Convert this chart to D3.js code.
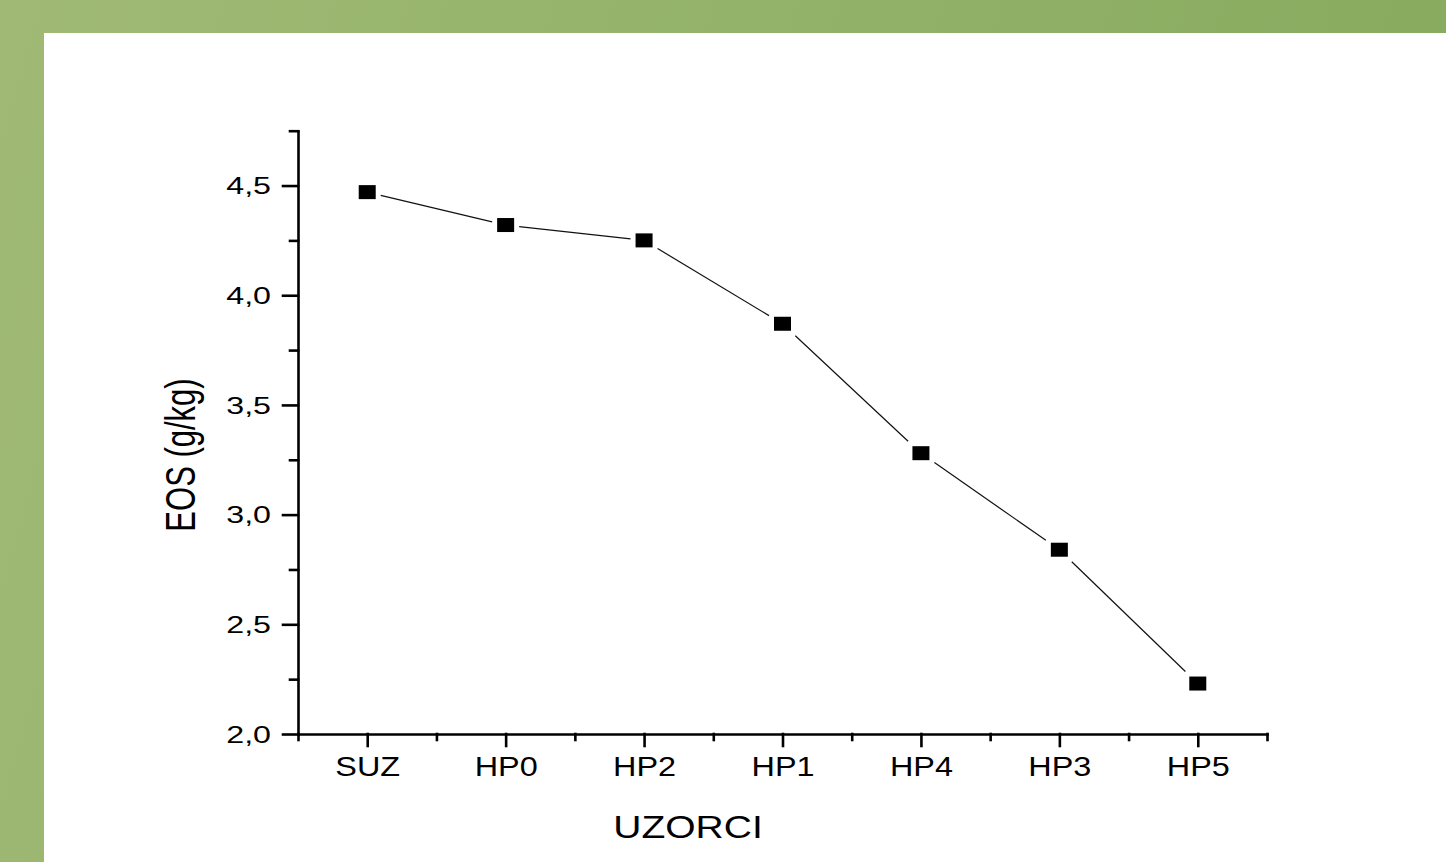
<!DOCTYPE html>
<html>
<head>
	<meta charset="UTF-8">
	<script src="https://d3js.org/d3.v7.min.js"></script>
	<style>
		body { margin: 0; background: #fff; }
		text { font-family: "Liberation Sans", Arial, sans-serif; fill: #000; }
	</style>
</head>
<body>
	<div id="chart"></div>
<script>

// samples on the x axis and measured EOS values (g/kg)
const samples = ["SUZ", "HP0", "HP2", "HP1", "HP4", "HP3", "HP5"];
const eos = [4.47, 4.32, 4.25, 3.87, 3.28, 2.84, 2.23];

const yTicks = [2.0, 2.5, 3.0, 3.5, 4.0, 4.5];
const yTickLabels = ["2,0", "2,5", "3,0", "3,5", "4,0", "4,5"];
const yMinorTicks = [2.25, 2.75, 3.25, 3.75, 4.25, 4.75];

const width = 1446, height = 862;

const svg = d3.select("#chart").append("svg")
	.attr("width", width)
	.attr("height", height);

// green slide frame behind the white panel
const grad = svg.append("defs").append("linearGradient")
	.attr("id", "frame")
	.attr("gradientUnits", "userSpaceOnUse")
	.attr("x1", 0).attr("y1", 0).attr("x2", width).attr("y2", 400);
grad.append("stop").attr("offset", 0).attr("stop-color", "#a0ba75");
grad.append("stop").attr("offset", 1).attr("stop-color", "#86aa5e");

svg.append("rect").attr("width", width).attr("height", height).attr("fill", "url(#frame)");
svg.append("rect").attr("x", 44).attr("y", 33).attr("width", width - 44).attr("height", height - 33).attr("fill", "#fff");

// scales
const x = d3.scaleLinear([-0.5, samples.length - 0.5], [298, 1267]);
const y = d3.scaleLinear([2.0, 4.75], [734, 130.7]);

// y axis
const yAxis = svg.append("g")
	.attr("transform", "translate(298,0)")
	.call(d3.axisLeft(y).tickValues(yTicks).tickSize(15).tickSizeOuter(0)
		.tickFormat((d, i) => yTickLabels[i]));
svg.append("g")
	.attr("transform", "translate(298,0)")
	.call(d3.axisLeft(y).tickValues(yMinorTicks).tickSize(8).tickFormat(""))
	.select(".domain").remove();

yAxis.selectAll("text")
	.attr("x", null).attr("dy", "0.36em")
	.attr("transform", "translate(-27,0) scale(1.4,1)")
	.style("font-size", "23px");

// x axis
const xAxis = svg.append("g")
	.attr("transform", "translate(0,734)")
	.call(d3.axisBottom(x).tickValues(d3.range(samples.length)).tickSize(12).tickSizeOuter(0)
		.tickFormat(i => samples[i]));
svg.append("g")
	.attr("transform", "translate(0,734)")
	.call(d3.axisBottom(x).tickValues(d3.range(samples.length + 1).map(i => i - 0.5)).tickSize(6).tickFormat(""))
	.select(".domain").remove();

xAxis.selectAll("text")
	.attr("y", null).attr("dy", null)
	.attr("transform", "translate(0,42) scale(1.2,1)")
	.style("font-size", "27px");

svg.selectAll(".domain, .tick line")
	.attr("stroke", "#000")
	.attr("stroke-width", 2.6)
	.attr("stroke-linecap", "square");

// axis titles
svg.append("text")
	.attr("text-anchor", "middle")
	.attr("transform", "translate(688,838) scale(1.22,1)")
	.style("font-size", "32px")
	.text("UZORCI");

svg.append("text")
	.attr("text-anchor", "middle")
	.attr("transform", "translate(195,455) scale(1.35,1) rotate(-90)")
	.style("font-size", "31px")
	.text("EOS (g/kg)");

// line segments with a small gap around each marker
const mw = 17, mh = 14, gap = 5;
const pts = eos.map((v, i) => [x(i), y(v)]);
const segs = d3.pairs(pts).map(([a, b]) => {
	const dx = b[0] - a[0], dy = b[1] - a[1];
	const t = Math.min((mw / 2 + gap) / Math.abs(dx || 1e-9), (mh / 2 + gap) / Math.abs(dy || 1e-9));
	return [a[0] + dx * t, a[1] + dy * t, b[0] - dx * t, b[1] - dy * t];
});

svg.append("g")
	.attr("stroke", "#111")
	.attr("stroke-width", 1.2)
	.selectAll("line")
	.data(segs)
	.join("line")
	.attr("x1", d => d[0]).attr("y1", d => d[1])
	.attr("x2", d => d[2]).attr("y2", d => d[3]);

svg.append("g")
	.selectAll("rect")
	.data(eos)
	.join("rect")
	.attr("x", (d, i) => x(i) - mw / 2)
	.attr("y", d => y(d) - mh / 2)
	.attr("width", mw)
	.attr("height", mh)
	.attr("fill", "#000");

</script>
</body>
</html>
